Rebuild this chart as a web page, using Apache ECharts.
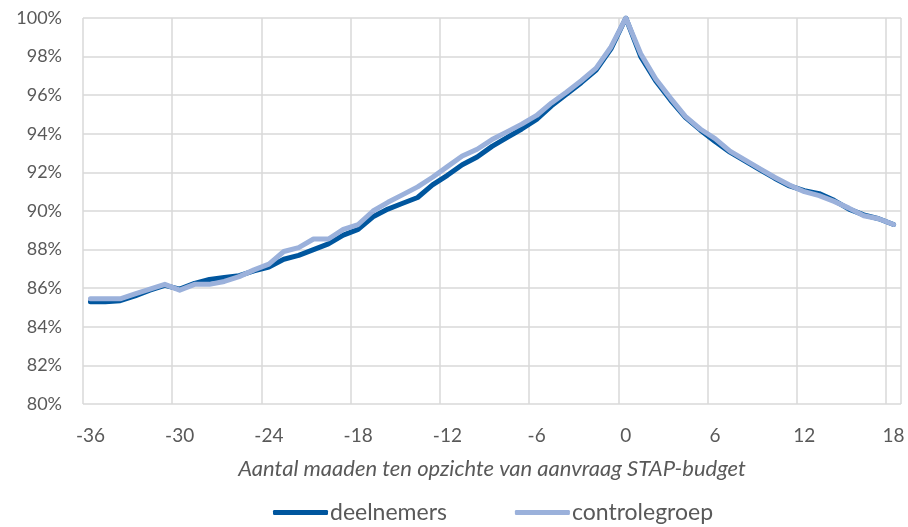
<!DOCTYPE html>
<html>
<head>
<meta charset="utf-8">
<script src="https://cdn.jsdelivr.net/npm/echarts@6/dist/echarts.min.js"></script>
<style>
  html, body { margin: 0; padding: 0; background: #fff; }
  #chart { width: 908px; height: 527px; }
</style>
</head>
<body>
<div id="chart"></div>
<script>
  // maanden t.o.v. aanvraag STAP-budget
  var months = [];
  for (var m = -36; m <= 18; m++) months.push(String(m));

  // percentage nog in dienst (in %)
  var deelnemers = [
    85.3, 85.3, 85.35, 85.6, 85.9, 86.15, 85.95, 86.25, 86.45, 86.55,
    86.65, 86.9, 87.1, 87.5, 87.7, 88.0, 88.3, 88.75, 89.05, 89.7,
    90.1, 90.4, 90.7, 91.35, 91.85, 92.4, 92.8, 93.35, 93.8, 94.25,
    94.75, 95.45, 96.05, 96.65, 97.3, 98.4, 100, 98.0, 96.75, 95.75,
    94.85, 94.2, 93.6, 93.05, 92.6, 92.15, 91.7, 91.3, 91.05, 90.9,
    90.55, 90.1, 89.8, 89.6, 89.3
  ]
  var controlegroep = [
    85.45, 85.45, 85.45, 85.7, 85.95, 86.2, 85.9, 86.2, 86.2, 86.35,
    86.6, 86.95, 87.25, 87.9, 88.1, 88.55, 88.55, 89.05, 89.3, 90.0,
    90.45, 90.85, 91.25, 91.75, 92.3, 92.85, 93.2, 93.7, 94.1, 94.5,
    94.95, 95.6, 96.15, 96.75, 97.4, 98.5, 100, 98.15, 96.85, 95.85,
    94.9, 94.25, 93.75, 93.1, 92.65, 92.2, 91.75, 91.35, 91.0, 90.8,
    90.5, 90.15, 89.75, 89.6, 89.3
  ]

  var chart = echarts.init(document.getElementById('chart'))
  var font = 'Lato, "Open Sans", sans-serif'
  var option = {
    animation: false,
    grid: { left: 83, right: 7, top: 18, bottom: 123 },
    xAxis: {
      type: 'category',
      data: months,
      boundaryGap: true,
      name: 'Aantal maaden ten opzichte van aanvraag STAP-budget',
      nameLocation: 'middle',
      nameGap: 54,
      nameTextStyle: { fontFamily: font, fontSize: 22, fontStyle: 'italic', color: '#595959' },
      axisLine: { show: false },
      axisTick: { show: false },
      axisLabel: { interval: 5, margin: 22, fontFamily: font, fontSize: 19, color: '#595959' },
      splitLine: { show: true, interval: 5, lineStyle: { color: '#D9D9D9', width: 1.5 } }
    },
    yAxis: {
      type: 'value',
      min: 80,
      max: 100,
      interval: 2,
      axisLine: { show: false },
      axisTick: { show: false },
      axisLabel: { margin: 21, fontFamily: font, fontSize: 18, color: '#595959', formatter: '{value}%' },
      splitLine: { lineStyle: { color: '#D9D9D9', width: 1.5 } }
    },
    legend: {
      top: 496,
      left: 268,
      icon: 'roundRect',
      itemWidth: 55,
      itemHeight: 5,
      itemGap: 68,
      textStyle: { fontFamily: font, fontSize: 23, color: '#595959', padding: [0, 0, 0, -3] },
      data: ['deelnemers', 'controlegroep']
    },
    series: [
      {
        name: 'deelnemers',
        type: 'line',
        data: deelnemers,
        symbol: 'none',
        itemStyle: { color: '#00569E' },
        lineStyle: { color: '#00569E', width: 5, cap: 'round', join: 'round' }
      },
      {
        name: 'controlegroep',
        type: 'line',
        data: controlegroep,
        symbol: 'none',
        itemStyle: { color: '#9BB1DB' },
        lineStyle: { color: '#9BB1DB', width: 5, cap: 'round', join: 'round' }
      }
    ]
  }
  chart.setOption(option)
</script>
</body>
</html>
